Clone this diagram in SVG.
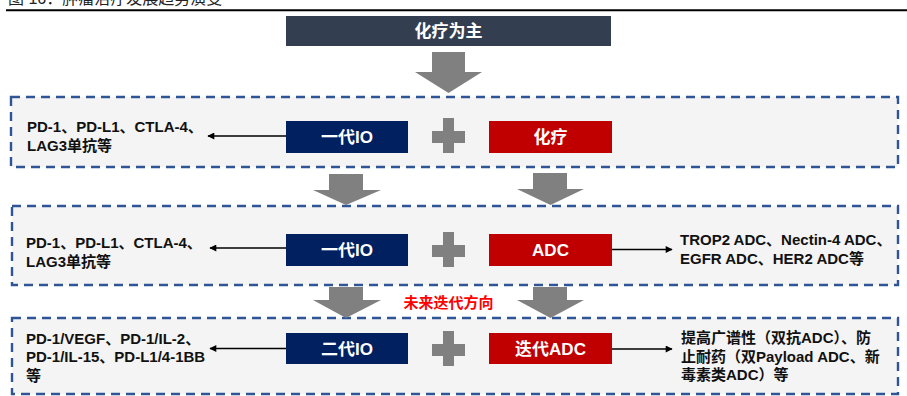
<svg xmlns="http://www.w3.org/2000/svg" width="907" height="396" viewBox="0 0 907 396">
<defs>
<style>
.t{font-family:"Liberation Sans","Noto Sans CJK SC",sans-serif;font-weight:bold}
.lbl{font-size:17px;fill:#fff;text-anchor:middle}
.txt{font-size:15px;fill:#111}
.frame{fill:#F4F4F4;stroke:#2F5597;stroke-width:2.4;stroke-dasharray:9 6}
.blk{fill:#808080}
.io{fill:#002060}
.red{fill:#C00000}
.conn{stroke:#000;stroke-width:1.3;fill:none;marker-end:url(#ah)}
</style>
<marker id="ah" viewBox="0 0 10 10" refX="9" refY="5" markerWidth="8" markerHeight="7" markerUnits="userSpaceOnUse" orient="auto">
<path d="M0,0 L10,5 L0,10 Z" fill="#000"/>
</marker>
</defs>
<rect width="907" height="396" fill="#fff"/>
<g id="caption">
<text class="t" x="8" y="4" style="font-size:16px;font-weight:normal;fill:#222">图 16：肿瘤治疗发展趋势演变</text>
<line x1="6" y1="10.3" x2="907" y2="10.3" stroke="#000" stroke-width="2"/>
</g>
<g id="frames">
<rect class="frame" x="11" y="97" width="887" height="70"/>
<rect class="frame" x="12" y="206" width="886" height="79"/>
<rect class="frame" x="12" y="318" width="886" height="76"/>
</g>
<g id="flow-arrows">
<polygon class="blk" points="432,52 465,52 465,72 482,72 448.5,93 415,72 432,72"/>
<polygon class="blk" points="329,174 363,174 363,190 381,190 346,205 313,190 329,190"/>
<polygon class="blk" points="533,173 567,173 567,189 584,189 550.5,205 517,189 533,189"/>
<polygon class="blk" points="329,287 363,287 363,300 381,300 346,318 313,300 329,300"/>
<polygon class="blk" points="533,287 567,287 567,300 584,300 550.5,318 517,300 533,300"/>
</g>
<g id="plus-signs">
<path class="blk" d="M443,118h11v13h11v12h-11v10h-11v-10h-11v-12h11z"/>
<path class="blk" d="M443,232h11v13h11v12h-11v10h-11v-10h-11v-12h11z"/>
<path class="blk" d="M443,331h11v13h11v12h-11v10h-11v-10h-11v-12h11z"/>
</g>
<g id="header">
<rect x="286" y="16" width="325" height="30" fill="#333F50"/>
<text class="t lbl" x="448.5" y="37">化疗为主</text>
</g>
<g id="io1">
<rect class="io" x="286" y="121" width="122" height="32"/>
<text class="t lbl" x="347" y="143">一代IO</text>
</g>
<g id="chemo">
<rect class="red" x="489" y="121" width="123" height="32"/>
<text class="t lbl" x="550.5" y="143">化疗</text>
</g>
<g id="io1b">
<rect class="io" x="286" y="234" width="122" height="32"/>
<text class="t lbl" x="347" y="256">一代IO</text>
</g>
<g id="adc">
<rect class="red" x="489" y="234" width="123" height="32"/>
<text class="t lbl" x="550.5" y="256">ADC</text>
</g>
<g id="io2">
<rect class="io" x="286" y="333" width="122" height="31"/>
<text class="t lbl" x="347" y="355">二代IO</text>
</g>
<g id="adc2">
<rect class="red" x="489" y="333" width="123" height="31"/>
<text class="t lbl" x="550.5" y="355">迭代ADC</text>
</g>
<g id="future-label">
<text class="t" x="448.5" y="308" text-anchor="middle" style="font-size:15px;fill:#FF0000">未来迭代方向</text>
</g>
<g id="note-row1-left">
<text class="t txt" x="27" y="132">PD-1、PD-L1、CTLA-4、</text>
<text class="t txt" x="27" y="151">LAG3单抗等</text>
</g>
<g id="note-row2-left">
<text class="t txt" x="26" y="248">PD-1、PD-L1、CTLA-4、</text>
<text class="t txt" x="26" y="267">LAG3单抗等</text>
</g>
<g id="note-row2-right">
<text class="t txt" x="680" y="244.5">TROP2 ADC、Nectin-4 ADC、</text>
<text class="t txt" x="680" y="263.5">EGFR ADC、HER2 ADC等</text>
</g>
<g id="note-row3-left">
<text class="t txt" x="26" y="343.5">PD-1/VEGF、PD-1/IL-2、</text>
<text class="t txt" x="26" y="362">PD-1/IL-15、PD-L1/4-1BB</text>
<text class="t txt" x="26" y="380.5">等</text>
</g>
<g id="note-row3-right">
<text class="t txt" x="681" y="343">提高广谱性（双抗ADC）、防</text>
<text class="t txt" x="681" y="361.5">止耐药（双Payload ADC、新</text>
<text class="t txt" x="681" y="380">毒素类ADC）等</text>
</g>
<g id="connectors">
<line class="conn" x1="286" y1="136" x2="208" y2="136"/>
<line class="conn" x1="286" y1="248" x2="210" y2="248"/>
<line class="conn" x1="612" y1="249.5" x2="672" y2="249.5"/>
<line class="conn" x1="286" y1="348.5" x2="210" y2="348.5"/>
<line class="conn" x1="612" y1="349" x2="672" y2="349"/>
</g>
</svg>
